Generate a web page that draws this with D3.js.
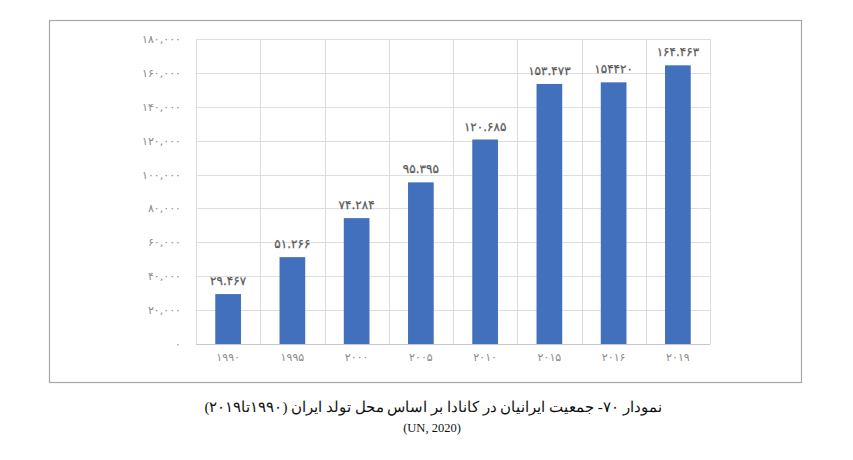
<!DOCTYPE html>
<html>
<head>
<meta charset="utf-8">
<script src="https://cdn.jsdelivr.net/npm/d3@7"></script>
<style>
  body { margin: 0; background: #fff; }
  svg { display: block; }
</style>
</head>
<body>
<div id="chart"></div>
<script>
// data
const years = ["1990", "1995", "2000", "2005", "2010", "2015", "2016", "2019"];
const population = [29467, 51266, 74284, 95395, 120685, 153473, 154420, 164463];
const valueLabels = ["29.467", "51.266", "74.284", "95.395", "120.685", "153.473", "154420", "164.463"];
const yTicks = [0, 20000, 40000, 60000, 80000, 100000, 120000, 140000, 160000, 180000];

const faDigits = "۰۱۲۳۴۵۶۷۸۹";
function toFa(s) {
  return String(s).replace(/[0-9]/g, d => faDigits[+d]);
}

const W = 853, H = 460;
const plot = { left: 196, right: 710, top: 39, bottom: 344 };

const svg = d3.select("#chart").append("svg")
  .attr("width", W)
  .attr("height", H);

// outer frame
svg.append("rect")
  .attr("x", 49.5).attr("y", 20.5)
  .attr("width", 752).attr("height", 362)
  .attr("fill", "none")
  .attr("stroke", "#a8a8a8")
  .attr("stroke-width", 1.2);

const x = d3.scaleBand()
  .domain(years)
  .range([plot.left, plot.right])
  .paddingInner(0.6)
  .paddingOuter(0.3);

const y = d3.scaleLinear()
  .domain([0, 180000])
  .range([plot.bottom, plot.top]);

// horizontal grid
svg.append("g")
  .selectAll("line")
  .data(yTicks)
  .enter().append("line")
  .attr("x1", plot.left).attr("x2", plot.right)
  .attr("y1", d => Math.round(y(d)) + 0.5)
  .attr("y2", d => Math.round(y(d)) + 0.5)
  .attr("stroke", d => d === 0 ? "#c8c8c8" : "#dedede")
  .attr("stroke-width", 1);

// vertical grid at category boundaries
const bounds = d3.range(years.length + 1).map(i => plot.left + i * (plot.right - plot.left) / years.length);
svg.append("g")
  .selectAll("line")
  .data(bounds)
  .enter().append("line")
  .attr("x1", d => Math.round(d) + 0.5).attr("x2", d => Math.round(d) + 0.5)
  .attr("y1", plot.top).attr("y2", plot.bottom)
  .attr("stroke", "#dedede")
  .attr("stroke-width", 1);

// y axis labels
const yAxis = d3.axisLeft(y)
  .tickValues(yTicks)
  .tickSize(0)
  .tickPadding(15)
  .tickFormat(d => toFa(d3.format(",")(d)));

svg.append("g")
  .attr("transform", `translate(${plot.left},0)`)
  .call(yAxis)
  .call(g => g.select(".domain").remove())
  .selectAll("text")
  .attr("font-family", "DejaVu Sans, sans-serif")
  .attr("font-size", 11)
  .attr("fill", "#8a8a8a");

// x axis labels
const xAxis = d3.axisBottom(x)
  .tickSize(0)
  .tickPadding(9)
  .tickFormat(d => toFa(d));

svg.append("g")
  .attr("transform", `translate(0,${plot.bottom})`)
  .call(xAxis)
  .call(g => g.select(".domain").remove())
  .selectAll("text")
  .attr("font-family", "DejaVu Sans, sans-serif")
  .attr("font-size", 11)
  .attr("fill", "#8a8a8a");

// bars
svg.append("g")
  .selectAll("rect")
  .data(years)
  .enter().append("rect")
  .attr("x", d => x(d))
  .attr("y", (d, i) => y(population[i]))
  .attr("width", x.bandwidth())
  .attr("height", (d, i) => plot.bottom - y(population[i]))
  .attr("fill", "#4270bd");

// value labels
svg.append("g")
  .selectAll("text")
  .data(years)
  .enter().append("text")
  .attr("x", d => x(d) + x.bandwidth() / 2)
  .attr("y", (d, i) => y(population[i]) - 9)
  .attr("text-anchor", "middle")
  .attr("font-family", "DejaVu Sans, sans-serif")
  .attr("font-size", 12)
  .attr("stroke", "#595959")
  .attr("stroke-width", 0.25)
  .attr("fill", "#595959")
  .text((d, i) => toFa(valueLabels[i]));

// caption
svg.append("text")
  .attr("x", 433)
  .attr("y", 412)
  .attr("text-anchor", "middle")
  .attr("direction", "rtl")
  .attr("font-family", "Liberation Serif, DejaVu Serif, serif")
  .attr("font-size", 15)
  .attr("fill", "#111")
  .text("نمودار ۷۰- جمعیت ایرانیان در کانادا بر اساس محل تولد ایران (۱۹۹۰تا۲۰۱۹)");

svg.append("text")
  .attr("x", 432)
  .attr("y", 432)
  .attr("text-anchor", "middle")
  .attr("font-family", "Liberation Serif, serif")
  .attr("font-size", 12.5)
  .attr("fill", "#111")
  .text("(UN, 2020)");
</script>
</body>
</html>
